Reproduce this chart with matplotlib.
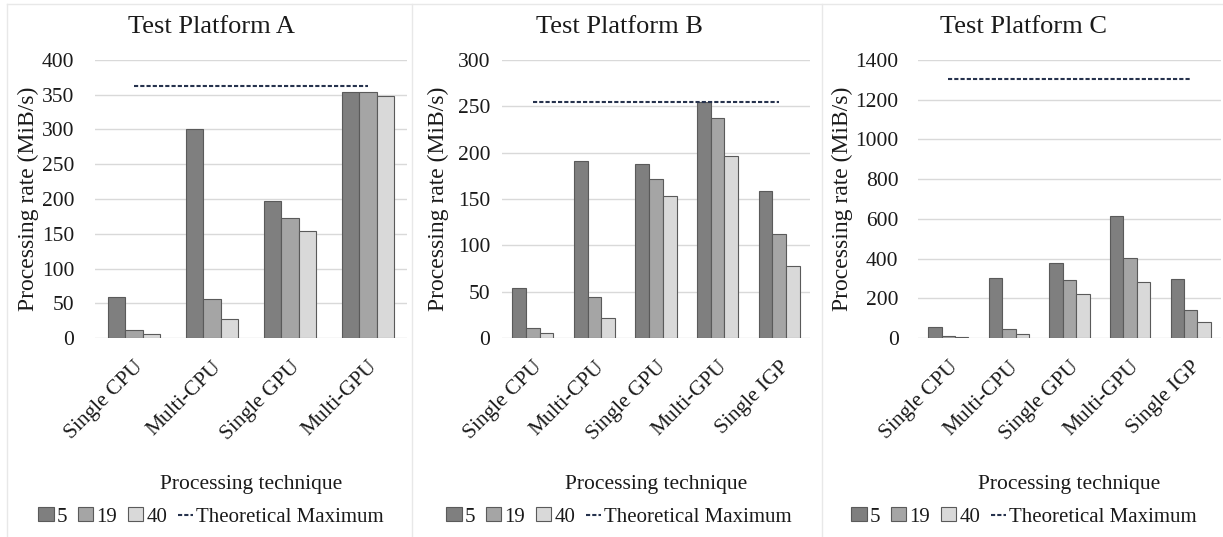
import matplotlib
matplotlib.use("Agg")
import matplotlib.pyplot as plt
from matplotlib.lines import Line2D
from matplotlib.patches import Patch
import numpy as np

plt.rcParams['font.family'] = ['Liberation Serif', 'DejaVu Serif']

# ---------------- data ----------------
cats_A = ['Single CPU', 'Multi-CPU', 'Single GPU', 'Multi-GPU']
cats_BC = ['Single CPU', 'Multi-CPU', 'Single GPU', 'Multi-GPU', 'Single IGP']
series_names = ['5', '19', '40']
max_name = 'Theoretical Maximum'

A_5 = [59, 300, 197, 354]
A_19 = [11, 56, 173, 354]
A_40 = [6, 27, 154, 348]
A_max = 363

B_5 = [54, 191, 188, 255, 159]
B_19 = [11, 44, 172, 237, 112]
B_40 = [5, 22, 153, 196, 78]
B_max = 255

C_5 = [54, 302, 376, 614, 297]
C_19 = [10, 45, 292, 405, 139]
C_40 = [5, 22, 220, 284, 79]
C_max = 1306

titles = ['Test Platform A', 'Test Platform B', 'Test Platform C']
ylims = [400, 300, 1400]
ysteps = [50, 50, 200]

# ---------------- layout ----------------
W, H = 1223, 537
fig = plt.figure(figsize=(W / 100, H / 100), dpi=100)
fig.patch.set_facecolor('white')

# plot areas in pixels: (left, right, top, bottom)
areas = [(95, 407, 60, 338), (502, 810, 60, 338), (918, 1221, 60, 338)]
panel_centers = [211, 619, 1024]
ylabel_x = [28, 438, 842]
ytick_pad = [15, 8.5, 14]

colors = ['#7f7f7f', '#a5a5a5', '#d9d9d9']
edge = '#5a5a5a'
line_color = '#26324d'
text_color = '#1a1a1a'

panels = [
    (cats_A, [A_5, A_19, A_40], A_max),
    (cats_BC, [B_5, B_19, B_40], B_max),
    (cats_BC, [C_5, C_19, C_40], C_max),
]

bw = 0.222
for i, (cats, vals, vmax) in enumerate(panels):
    l, r, t, b = areas[i]
    ax = fig.add_axes([l / W, (H - b) / H, (r - l) / W, (b - t) / H])
    n = len(cats)
    x = np.arange(n)
    for k, (v, c) in enumerate(zip(vals, colors)):
        ax.bar(x + (k - 1) * bw, v, width=bw, color=c, edgecolor=edge,
               linewidth=0.8, zorder=3, label=series_names[k])
    ax.plot(x, [vmax] * n, color=line_color, lw=1.5, ls=(0, (2.0, 1.0)),
            zorder=4, label=max_name)
    ax.set_xlim(-0.5, n - 0.5)
    ax.set_ylim(0, ylims[i])
    ax.set_yticks(np.arange(0, ylims[i] + 1, ysteps[i]))
    ax.set_xticks(x)
    ax.set_xticklabels(cats, rotation=45, ha='right', rotation_mode='anchor')
    ax.tick_params(axis='x', length=0, pad=14, labelsize=15.5, colors=text_color)
    ax.tick_params(axis='y', length=0, pad=ytick_pad[i], labelsize=15.5, colors=text_color)
    for s in ax.spines.values():
        s.set_visible(False)
    ax.grid(axis='y', color='#d9d9d9', lw=1.0, zorder=0)
    ax.set_axisbelow(True)
    ax.set_facecolor('none')

    fig.text(ylabel_x[i] / W, 1 - ((t + b) / 2) / H, 'Processing rate (MiB/s)',
             rotation=90, ha='center', va='center', fontsize=17, color=text_color)
    fig.text(panel_centers[i] / W, 1 - 27 / H, titles[i], ha='center', va='center',
             fontsize=19, color=text_color)
    fig.text(((l + r) / 2) / W, 1 - 484 / H, 'Processing technique', ha='center',
             va='center', fontsize=15.5, color=text_color)

    handles = [Patch(facecolor=c, edgecolor=edge, linewidth=0.8) for c in colors]
    handles.append(Line2D([0], [0], color=line_color, lw=1.5, ls=(0, (2.0, 1.0))))
    leg = fig.legend(handles, series_names + [max_name], loc='center',
                     bbox_to_anchor=(panel_centers[i] / W, 1 - 517 / H), ncol=4,
                     frameon=False, fontsize=15, handlelength=0.75, handleheight=0.65,
                     handletextpad=0.15, columnspacing=0.5, borderaxespad=0)
    for tx in leg.get_texts():
        tx.set_color(text_color)

# faint panel borders
bc = '#e8e8e8'
for xs, ys in [((7, 7), (4, 537)), ((412, 412), (4, 537)), ((822, 822), (4, 537)),
               ((7, 1223), (4, 4))]:
    fig.add_artist(Line2D([xs[0] / W, xs[1] / W], [1 - ys[0] / H, 1 - ys[1] / H],
                          color=bc, lw=1.0, transform=fig.transFigure))

fig.savefig('out.png', dpi=100)
